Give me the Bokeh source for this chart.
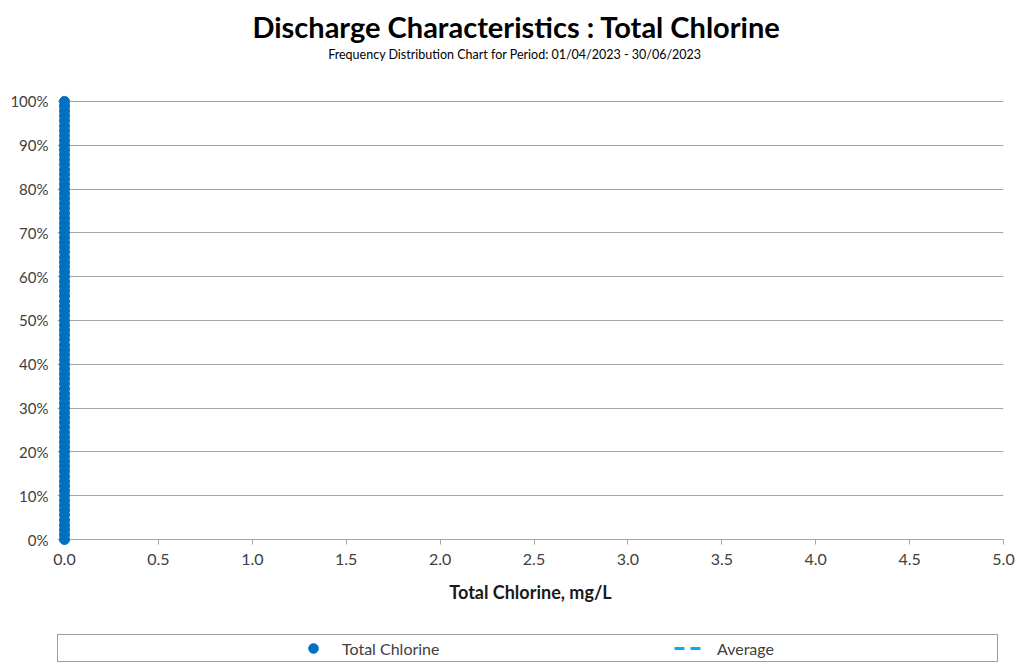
from bokeh.plotting import figure
from bokeh.layouts import column
from bokeh.models import (Range1d, FixedTicker, NumeralTickFormatter, Legend,
                          LegendItem, ColumnDataSource)
from bokeh.core.properties import value
from bokeh.embed import file_html
from bokeh.resources import INLINE

# ---------------- data ----------------
title_text = "Discharge Characteristics : Total Chlorine"
subtitle_text = "Frequency  Distribution Chart for Period: 01/04/2023 - 30/06/2023"
x_axis_label = "Total Chlorine, mg/L"
series_name = "Total Chlorine"
average_name = "Average"

# cumulative frequency (fraction of samples) for each reading
cumulative_frac = [
    0.000, 0.011, 0.022, 0.033, 0.044, 0.056, 0.067, 0.078, 0.089,
    0.100, 0.111, 0.122, 0.133, 0.144, 0.156, 0.167, 0.178, 0.189,
    0.200, 0.211, 0.222, 0.233, 0.244, 0.256, 0.267, 0.278, 0.289,
    0.300, 0.311, 0.322, 0.333, 0.344, 0.356, 0.367, 0.378, 0.389,
    0.400, 0.411, 0.422, 0.433, 0.444, 0.456, 0.467, 0.478, 0.489,
    0.500, 0.511, 0.522, 0.533, 0.544, 0.556, 0.567, 0.578, 0.589,
    0.600, 0.611, 0.622, 0.633, 0.644, 0.656, 0.667, 0.678, 0.689,
    0.700, 0.711, 0.722, 0.733, 0.744, 0.756, 0.767, 0.778, 0.789,
    0.800, 0.811, 0.822, 0.833, 0.844, 0.856, 0.867, 0.878, 0.889,
    0.900, 0.911, 0.922, 0.933, 0.944, 0.956, 0.967, 0.978, 0.989,
    1.000,
]
# Total chlorine reading (mg/L) for each sample
chlorine_mg_l = [
    0.0, 0.0, 0.0, 0.0, 0.0, 0.0, 0.0, 0.0, 0.0,
    0.0, 0.0, 0.0, 0.0, 0.0, 0.0, 0.0, 0.0, 0.0,
    0.0, 0.0, 0.0, 0.0, 0.0, 0.0, 0.0, 0.0, 0.0,
    0.0, 0.0, 0.0, 0.0, 0.0, 0.0, 0.0, 0.0, 0.0,
    0.0, 0.0, 0.0, 0.0, 0.0, 0.0, 0.0, 0.0, 0.0,
    0.0, 0.0, 0.0, 0.0, 0.0, 0.0, 0.0, 0.0, 0.0,
    0.0, 0.0, 0.0, 0.0, 0.0, 0.0, 0.0, 0.0, 0.0,
    0.0, 0.0, 0.0, 0.0, 0.0, 0.0, 0.0, 0.0, 0.0,
    0.0, 0.0, 0.0, 0.0, 0.0, 0.0, 0.0, 0.0, 0.0,
    0.0, 0.0, 0.0, 0.0, 0.0, 0.0, 0.0, 0.0, 0.0,
    0.0,
]
average_x = [0.0, 0.0]
average_y = [0.0, 1.0]

x_ticks = [0.0, 0.5, 1.0, 1.5, 2.0, 2.5, 3.0, 3.5, 4.0, 4.5, 5.0]
y_ticks = [0.0, 0.1, 0.2, 0.3, 0.4, 0.5, 0.6, 0.7, 0.8, 0.9, 1.0]

# ---------------- styling ----------------
FONT = "Lato"
TICK_COLOR = "#404040"
GRID_COLOR = "#a6a6a6"
POINT_COLOR = "#0070c0"
AVG_COLOR = "#00b0f0"
LEFT_BORDER = 57
RIGHT_BORDER = 12

p = figure(width=1015, height=632, output_backend="svg", toolbar_location=None,
           x_range=Range1d(-0.0373, 5), y_range=Range1d(0, 1.002),
           min_border_left=LEFT_BORDER, min_border_right=RIGHT_BORDER,
           min_border_top=100, min_border_bottom=93)
p.outline_line_color = None
p.background_fill_color = "white"
p.border_fill_color = "white"

# axes
xa = p.xaxis[0]
xa.ticker = FixedTicker(ticks=x_ticks)
xa.formatter = NumeralTickFormatter(format="0.0")
xa.axis_line_color = GRID_COLOR
xa.major_tick_line_color = GRID_COLOR
xa.major_tick_out = 5
xa.major_tick_in = 0
xa.minor_tick_line_color = None
xa.major_label_standoff = 9
xa.major_label_text_font = FONT
xa.major_label_text_font_size = "16px"
xa.major_label_text_color = TICK_COLOR
xa.axis_label = x_axis_label
xa.axis_label_text_font = FONT
xa.axis_label_text_font_size = "18px"
xa.axis_label_text_font_style = "bold"
xa.axis_label_text_color = "#1a1a1a"
xa.axis_label_standoff = 13

ya = p.yaxis[0]
ya.ticker = FixedTicker(ticks=y_ticks)
ya.formatter = NumeralTickFormatter(format="0%")
ya.axis_line_color = None
ya.major_tick_line_color = None
ya.minor_tick_line_color = None
ya.major_tick_out = 0
ya.major_tick_in = 0
ya.major_label_standoff = 9
ya.major_label_text_font = FONT
ya.major_label_text_font_size = "15px"
ya.major_label_text_color = TICK_COLOR

p.xgrid.grid_line_color = None
p.ygrid.ticker = FixedTicker(ticks=y_ticks)
p.ygrid.grid_line_color = GRID_COLOR
p.ygrid.grid_line_width = 1

# data renderers
avg_src = ColumnDataSource(dict(x=average_x, y=average_y))
p.line("x", "y", source=avg_src, line_color=AVG_COLOR, line_width=3,
       line_dash="10 6", level="overlay")
src = ColumnDataSource(dict(x=chlorine_mg_l, y=cumulative_frac))
p.scatter("x", "y", source=src, marker="circle", size=10,
          fill_color=POINT_COLOR, line_color=POINT_COLOR, level="overlay")

# titles (overlay text so they may sit above the plot frame)
p.text(x=[2.407], y=[1.170], text=[title_text], text_align="center",
       text_baseline="middle", text_font=value(FONT), text_font_size="29px",
       text_font_style="bold", text_color="black", level="overlay")
p.text(x=[2.407], y=[1.108], text=[subtitle_text], text_align="center",
       text_baseline="middle", text_font=value(FONT), text_font_size="12.5px",
       text_color="black", level="overlay")

# ---------------- legend strip ----------------
# Shares the data sources; its range lies away from the data so only the
# legend is visible.
lg = figure(width=1015, height=36, output_backend="svg", toolbar_location=None,
            x_range=Range1d(10, 11), y_range=Range1d(10, 11),
            x_axis_type=None, y_axis_type=None,
            min_border_left=LEFT_BORDER, min_border_right=RIGHT_BORDER,
            min_border_top=0, min_border_bottom=0)
lg.outline_line_color = None
lg.background_fill_color = "white"
lg.border_fill_color = "white"
lg.xgrid.visible = False
lg.ygrid.visible = False

k_pts = lg.scatter("x", "y", source=src, marker="circle", size=10,
                   fill_color=POINT_COLOR, line_color=POINT_COLOR)
k_avg = lg.line("x", "y", source=avg_src, line_color=AVG_COLOR, line_width=3,
                line_dash="10 6")

legend = Legend(items=[LegendItem(label=series_name, renderers=[k_pts]),
                       LegendItem(label=average_name, renderers=[k_avg])],
                orientation="horizontal", location=(0, 6),
                title=" ", title_location="left", title_text_font_size="1px",
                title_standoff=239,
                padding=1, spacing=53, margin=0,
                glyph_width=28, glyph_height=24, label_width=279, label_height=16,
                label_standoff=15,
                label_text_font=FONT, label_text_font_size="16px",
                label_text_color=TICK_COLOR,
                border_line_color="#404040", border_line_width=1,
                background_fill_color="white", background_fill_alpha=1)
lg.add_layout(legend)

layout = column(p, lg, spacing=0)
open("out.html", "w").write(file_html(layout, INLINE))
